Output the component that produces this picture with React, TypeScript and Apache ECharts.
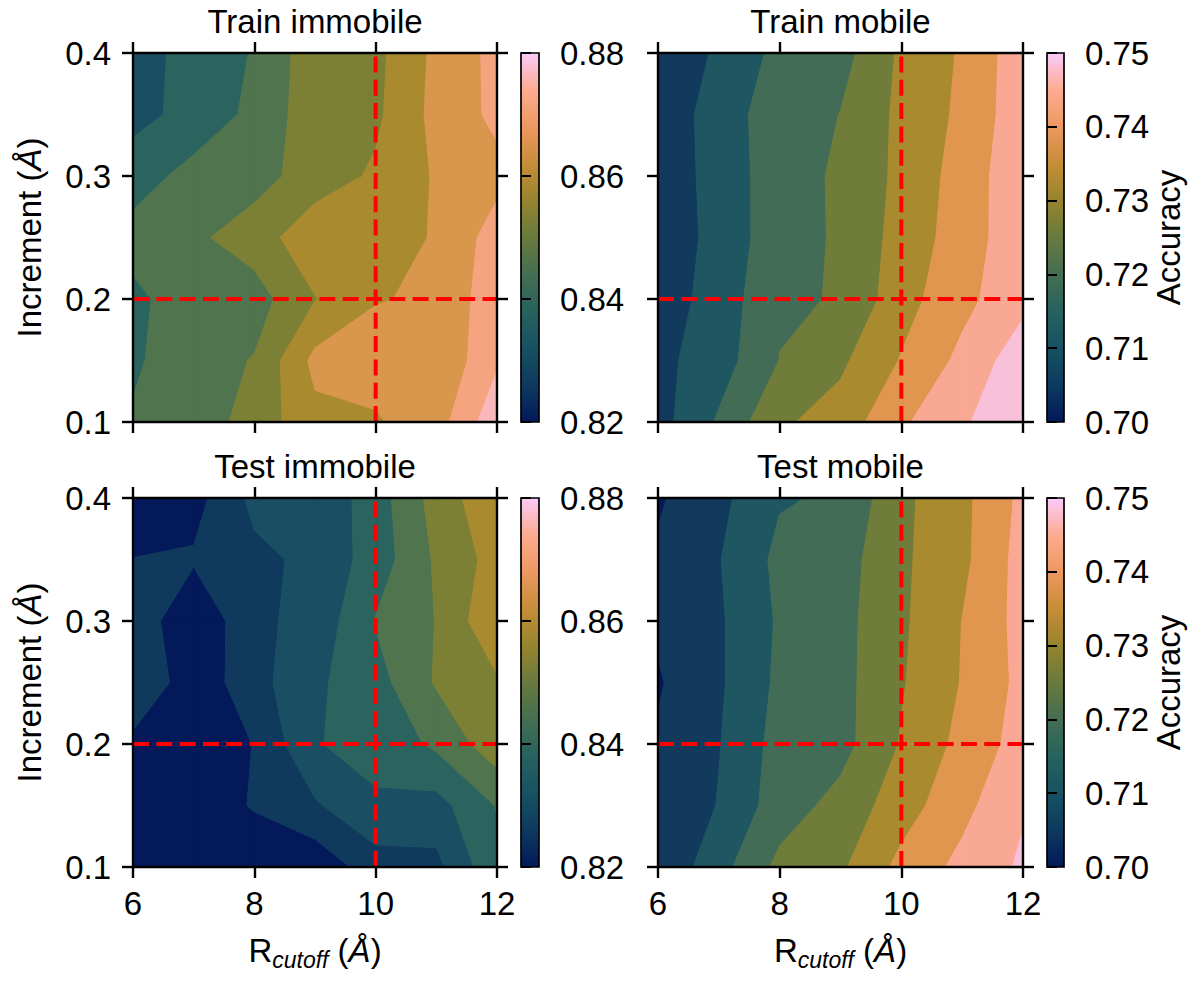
import React, { useEffect, useRef } from "react";
import * as echarts from "echarts";

// ---------------- data ----------------
const rCutoff = [6, 7, 8, 9, 10, 11, 12];
const increment = [0.1, 0.15, 0.2, 0.25, 0.3, 0.35, 0.4];

// rows: increment 0.1 -> 0.4, columns: R_cutoff 6 -> 12
const trainImmobile = [
  [0.8446, 0.84664, 0.85234, 0.86032, 0.8614, 0.86518, 0.8782],
  [0.8431, 0.8476, 0.8503, 0.86356, 0.8644, 0.8626, 0.8731],
  [0.8425, 0.84748, 0.8473, 0.8557, 0.8617, 0.86272, 0.87196],
  [0.8464, 0.8488, 0.853, 0.85996, 0.8596, 0.86242, 0.8707],
  [0.841, 0.84616, 0.8476, 0.85282, 0.8569, 0.8626, 0.8662],
  [0.8362, 0.8398, 0.84556, 0.85348, 0.8548, 0.8638, 0.86938],
  [0.8374, 0.83848, 0.8446, 0.85348, 0.85438, 0.86338, 0.86968],
];
const testImmobile = [
  [0.8212, 0.8209, 0.8206, 0.82168, 0.82912, 0.83026, 0.84274],
  [0.8224, 0.82162, 0.8266, 0.83122, 0.8371, 0.83578, 0.8443],
  [0.8242, 0.823, 0.82612, 0.83764, 0.84004, 0.84514, 0.8536],
  [0.83212, 0.82192, 0.82978, 0.83692, 0.84166, 0.8506, 0.85516],
  [0.83044, 0.8206, 0.8308, 0.8338, 0.8443, 0.85018, 0.86116],
  [0.82612, 0.82672, 0.83044, 0.8335, 0.84064, 0.85084, 0.85834],
  [0.8218, 0.8236, 0.83368, 0.8332, 0.84106, 0.8524, 0.8608],
];
const trainMobile = [
  [0.70889, 0.71739, 0.72689, 0.73011, 0.738, 0.74361, 0.74917],
  [0.70961, 0.714, 0.72233, 0.72672, 0.73367, 0.74022, 0.74778],
  [0.70833, 0.71328, 0.72156, 0.7225, 0.73111, 0.73728, 0.74278],
  [0.70611, 0.71356, 0.71944, 0.72306, 0.72978, 0.736, 0.74256],
  [0.70611, 0.71406, 0.71906, 0.72328, 0.72906, 0.73561, 0.74289],
  [0.70594, 0.71456, 0.71889, 0.72233, 0.72906, 0.73444, 0.74239],
  [0.70583, 0.71211, 0.71817, 0.72006, 0.72872, 0.73394, 0.74233],
];
const testMobile = [
  [0.70633, 0.71456, 0.72367, 0.72683, 0.73489, 0.74039, 0.74528],
  [0.70583, 0.71139, 0.71944, 0.72406, 0.73072, 0.73722, 0.74389],
  [0.70611, 0.71083, 0.71872, 0.72022, 0.72817, 0.73489, 0.74117],
  [0.705, 0.71028, 0.71783, 0.72033, 0.72728, 0.73361, 0.74039],
  [0.70639, 0.71033, 0.71739, 0.72033, 0.72683, 0.73339, 0.74083],
  [0.70628, 0.71083, 0.71806, 0.71967, 0.72678, 0.73194, 0.74106],
  [0.70489, 0.70961, 0.71617, 0.71739, 0.7265, 0.73183, 0.74022],
];

const immobileLevels = [0.82, 0.826, 0.832, 0.838, 0.844, 0.85, 0.856, 0.862, 0.868, 0.874, 0.88];
const mobileLevels = [0.7, 0.70556, 0.71111, 0.71667, 0.72222, 0.72778, 0.73333, 0.73889, 0.74444, 0.75];

const immobileTicks = { min: 0.82, max: 0.88, step: 0.02 };
const mobileTicks = { min: 0.7, max: 0.75, step: 0.01 };

const refCutoff = 10;
const refIncrement = 0.2;

// ---------------- styles ----------------
const immobileColors = [
  "#03195a", "#0f3a5e", "#1a4f63", "#2b645e", "#50744e",
  "#7c8035", "#aa8a2e", "#d9964d", "#f6a380", "#f9b8ba",
];
const mobileColors = [
  "#03195a", "#123a5c", "#1e5762", "#426c55", "#6f7c3a",
  "#a98a2e", "#e0964f", "#f9a993", "#f8c0d9",
];
const batlow = [
  "#011959", "#0e3a5f", "#165262", "#27625f", "#446e52", "#697a3e",
  "#96842e", "#c68d38", "#ed9860", "#fdab91", "#faccfa",
];

const FONT = '"Liberation Sans", Arial, Helvetica, sans-serif';
const FS = 33;
const LINE = { color: "#000", width: 2.4 };

type P3 = [number, number, number];

function clip(poly: P3[], lvl: number, above: boolean): P3[] {
  const out: P3[] = [];
  for (let k = 0; k < poly.length; k++) {
    const a = poly[k];
    const b = poly[(k + 1) % poly.length];
    const ina = above ? a[2] >= lvl : a[2] <= lvl;
    const inb = above ? b[2] >= lvl : b[2] <= lvl;
    if (ina) out.push(a);
    if (ina !== inb) {
      const t = (lvl - a[2]) / (b[2] - a[2]);
      out.push([a[0] + t * (b[0] - a[0]), a[1] + t * (b[1] - a[1]), lvl]);
    }
  }
  return out;
}

function buildOption() {
  const panels = [
    { title: "Train immobile", data: trainImmobile, levels: immobileLevels, colors: immobileColors, ticks: immobileTicks, left: 133, top: 53, width: 364, cbLeft: 521, cbWidth: 18, xLab: false, yLab: true },
    { title: "Train mobile", data: trainMobile, levels: mobileLevels, colors: mobileColors, ticks: mobileTicks, left: 658, top: 53, width: 365, cbLeft: 1047, cbWidth: 17, xLab: false, yLab: false },
    { title: "Test immobile", data: testImmobile, levels: immobileLevels, colors: immobileColors, ticks: immobileTicks, left: 133, top: 498, width: 364, cbLeft: 521, cbWidth: 18, xLab: true, yLab: true },
    { title: "Test mobile", data: testMobile, levels: mobileLevels, colors: mobileColors, ticks: mobileTicks, left: 658, top: 498, width: 365, cbLeft: 1047, cbWidth: 17, xLab: true, yLab: false },
  ];
  const PH = 369;
  const grid: any[] = [];
  const xAxis: any[] = [];
  const yAxis: any[] = [];
  const series: any[] = [];
  const graphic: any[] = [];

  const xMin = rCutoff[0], xMax = rCutoff[rCutoff.length - 1];
  const yMin = increment[0], yMax = increment[increment.length - 1];

  panels.forEach((p, pi) => {
    grid[pi] = { left: p.left, top: p.top, width: p.width, height: PH };
    const mkX = (position: string, show: boolean) => ({
      type: "value", gridIndex: pi, position, min: xMin, max: xMax, interval: 2, z: 10,
      axisLine: { show: true, onZero: false, lineStyle: LINE },
      axisTick: { show: true, inside: false, length: 11, lineStyle: LINE },
      axisLabel: { show, fontSize: FS, color: "#000", fontFamily: FONT, margin: 20 },
      splitLine: { show: false },
    });
    const mkY = (position: string, show: boolean) => ({
      type: "value", gridIndex: pi, position, min: yMin, max: yMax, interval: 0.1, z: 10,
      axisLine: { show: true, onZero: false, lineStyle: LINE },
      axisTick: { show: true, inside: false, length: 11, lineStyle: LINE },
      axisLabel: { show, fontSize: FS, color: "#000", fontFamily: FONT, margin: 22, formatter: (v: number) => v.toFixed(1) },
      splitLine: { show: false },
    });
    xAxis[2 * pi] = mkX("bottom", p.xLab);
    xAxis[2 * pi + 1] = mkX("top", false);
    yAxis[2 * pi] = mkY("left", p.yLab);
    yAxis[2 * pi + 1] = mkY("right", false);

    const cells: number[][] = [];
    for (let j = 0; j < increment.length - 1; j++) {
      for (let i = 0; i < rCutoff.length - 1; i++) {
        cells.push([(rCutoff[i] + rCutoff[i + 1]) / 2, (increment[j] + increment[j + 1]) / 2, i, j]);
      }
    }
    const data = p.data, levels = p.levels, colors = p.colors;
    series.push({
      type: "custom", xAxisIndex: 2 * pi, yAxisIndex: 2 * pi, z: 2, silent: true,
      dimensions: ["x", "y", "i", "j"], encode: { x: 0, y: 1 },
      data: cells,
      renderItem: (params: any, api: any) => {
        const i = api.value(2) as number;
        const j = api.value(3) as number;
        const quad: P3[] = [
          [rCutoff[i], increment[j], data[j][i]],
          [rCutoff[i + 1], increment[j], data[j][i + 1]],
          [rCutoff[i + 1], increment[j + 1], data[j + 1][i + 1]],
          [rCutoff[i], increment[j + 1], data[j + 1][i]],
        ];
        const children: any[] = [];
        for (let k = 0; k < levels.length - 1; k++) {
          let poly = clip(quad, levels[k], true);
          if (poly.length < 3) continue;
          poly = clip(poly, levels[k + 1], false);
          if (poly.length < 3) continue;
          children.push({
            type: "polygon",
            shape: { points: poly.map((q) => api.coord([q[0], q[1]])) },
            style: { fill: colors[k], stroke: colors[k], lineWidth: 1.2, lineJoin: "round" },
          });
        }
        return { type: "group", children };
      },
    });
    const dash = { color: "#ff0000", width: 4, type: [16, 7.3] };
    series.push({
      type: "line", xAxisIndex: 2 * pi, yAxisIndex: 2 * pi, z: 5, silent: true, symbol: "none",
      data: [[refCutoff, yMin], [refCutoff, yMax]], lineStyle: dash,
    });
    series.push({
      type: "line", xAxisIndex: 2 * pi, yAxisIndex: 2 * pi, z: 5, silent: true, symbol: "none",
      data: [[xMin, refIncrement], [xMax, refIncrement]], lineStyle: dash,
    });

    // colorbar
    const gi = 4 + pi;
    grid[gi] = { left: p.cbLeft, top: p.top, width: p.cbWidth, height: PH };
    xAxis[8 + pi] = { type: "value", gridIndex: gi, min: 0, max: 1, show: false };
    yAxis[8 + pi] = {
      type: "value", gridIndex: gi, position: "right", min: p.ticks.min, max: p.ticks.max, interval: p.ticks.step, z: 10,
      axisLine: { show: false },
      axisTick: { show: true, inside: false, length: 10, lineStyle: { color: "#000", width: 2 } },
      axisLabel: { show: true, fontSize: FS, color: "#000", fontFamily: FONT, margin: 21, formatter: (v: number) => v.toFixed(2) },
      splitLine: { show: false },
    };
    const lo = p.ticks.min, hi = p.ticks.max;
    series.push({
      type: "custom", xAxisIndex: 8 + pi, yAxisIndex: 8 + pi, z: 2, silent: true,
      data: [[0.5, (lo + hi) / 2]],
      renderItem: (params: any, api: any) => {
        const a = api.coord([0, lo]);
        const b = api.coord([1, hi]);
        return {
          type: "rect",
          shape: { x: a[0], y: b[1], width: b[0] - a[0], height: a[1] - b[1] },
          style: {
            fill: new echarts.graphic.LinearGradient(0, 1, 0, 0, batlow.map((c, k) => ({ offset: k / (batlow.length - 1), color: c }))),
            stroke: "#000", lineWidth: 1.7,
          },
        };
      },
    });

    const cx = p.left + p.width / 2;
    const cy = p.top + PH / 2;
    graphic.push({
      type: "text", x: cx, y: p.top - 32,
      style: { text: p.title, fontSize: FS, fontFamily: FONT, fill: "#000", align: "center", verticalAlign: "middle" },
    });
    if (p.yLab) {
      graphic.push({
        type: "text", x: 29.5, y: cy, rotation: Math.PI / 2,
        style: {
          text: "Increment ({it|Å})", fontSize: FS, fontFamily: FONT, fill: "#000", align: "center", verticalAlign: "middle",
          rich: { it: { fontSize: FS, fontFamily: FONT, fontStyle: "italic", fill: "#000" } },
        },
      });
    }
    if (!p.yLab) {
      graphic.push({
        type: "text", x: 1168, y: cy, rotation: Math.PI / 2,
        style: { text: "Accuracy", fontSize: FS, fontFamily: FONT, fill: "#000", align: "center", verticalAlign: "middle" },
      });
    }
    if (p.xLab) {
      graphic.push({
        type: "text", x: cx, y: 950,
        style: {
          text: "{r|R}{sub|cutoff}{r| (}{it|Å}{r|)}", fontSize: FS, fontFamily: FONT, fill: "#000", align: "center", verticalAlign: "middle",
          rich: {
            r: { fontSize: FS, fontFamily: FONT, fill: "#000" },
            sub: { fontSize: 23, fontFamily: FONT, fontStyle: "italic", fill: "#000", padding: [20, 0, 0, 0] },
            it: { fontSize: FS, fontFamily: FONT, fontStyle: "italic", fill: "#000" },
          },
        },
      });
    }
  });

  return { animation: false, backgroundColor: "#fff", grid, xAxis, yAxis, series, graphic: { elements: graphic } };
}

export default function App() {
  const ref = useRef<HTMLDivElement>(null);
  useEffect(() => {
    document.body.style.margin = "0";
    const chart = echarts.init(ref.current!, null, { renderer: "svg" });
    chart.setOption(buildOption() as any);
    return () => chart.dispose();
  }, []);
  return <div ref={ref} style={{ width: 1196, height: 983 }} />;
}
